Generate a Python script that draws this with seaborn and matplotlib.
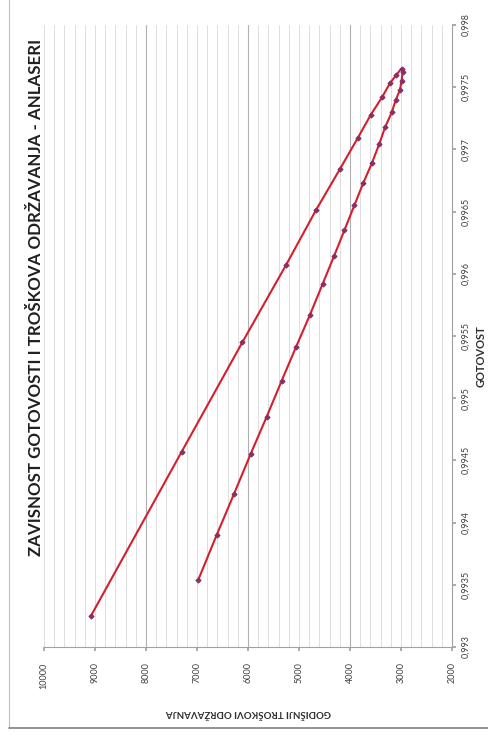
import numpy as np
import pandas as pd
import matplotlib
matplotlib.use("Agg")
import matplotlib.pyplot as plt
from matplotlib.ticker import MultipleLocator
from matplotlib.lines import Line2D
import seaborn as sns

# ---- data ----
outer_cost = [9080, 7300, 6110, 5255, 4670, 4200, 3850, 3590, 3370, 3220, 3090, 2990]
outer_got = [0.99325, 0.99457, 0.99545, 0.99607, 0.99651, 0.99684, 0.99709,
             0.99728, 0.99742, 0.99753, 0.99760, 0.99765]
inner_cost = [2970, 2990, 3020, 3100, 3180, 3310, 3430, 3570, 3740, 3915, 4110,
              4315, 4535, 4785, 5060, 5340, 5635, 5950, 6275, 6615, 6975]
inner_got = [0.99762, 0.99755, 0.99748, 0.99740, 0.99730, 0.99718, 0.99704,
             0.99689, 0.99673, 0.99655, 0.99635, 0.99614, 0.99592, 0.99567,
             0.99541, 0.99514, 0.99485, 0.99455, 0.99423, 0.99390, 0.99354]

cost_ticks = [10000, 9000, 8000, 7000, 6000, 5000, 4000, 3000, 2000]
cost_tick_labels = ["10000", "9000", "8000", "7000", "6000", "5000", "4000", "3000", "2000"]
got_ticks = [0.993, 0.9935, 0.994, 0.9945, 0.995, 0.9955, 0.996, 0.9965, 0.997, 0.9975, 0.998]
got_tick_labels = ["0,993", "0,9935", "0,994", "0,9945", "0,995", "0,9955",
                   "0,996", "0,9965", "0,997", "0,9975", "0,998"]
major_grid = [8000, 6000, 4000]

title = "ZAVISNOST GOTOVOSTI I TROŠKOVA ODRŽAVANJA - ANLASERI"
xlabel = "GODIŠNJI TROŠKOVI ODRŽAVANJA"
ylabel = "GOTOVOST"

sns.set_theme(style="white")
plt.rcParams['font.family'] = ['Lato', 'DejaVu Sans']

W, H = 489, 740
fig = plt.figure(figsize=(W / 100, H / 100), dpi=100)
fig.patch.set_facecolor("white")
ax = fig.add_axes([44 / W, (H - 647) / H, 408 / W, 622 / H])

df = pd.DataFrame({
    "cost": outer_cost + inner_cost,
    "got": outer_got + inner_got,
})

sns.lineplot(data=df, x="cost", y="got", sort=False, estimator=None, ax=ax,
             color="#d41f2c", lw=1.5, marker="D", markersize=2.6,
             markerfacecolor="#8a2f62", markeredgecolor="#8a2f62", zorder=3)

ax.set_xlim(10000, 2000)
ax.set_ylim(0.993, 0.998)

# grid (vertical only)
ax.xaxis.set_minor_locator(MultipleLocator(200))
ax.grid(which="minor", axis="x", color="#d8d8d8", lw=0.6)
ax.grid(which="major", axis="x", color="#d8d8d8", lw=0.6)
ax.grid(False, axis="y")
for g in major_grid:
    ax.axvline(g, color="#b0b0b0", lw=0.8, zorder=1)

# x axis (costs) at bottom, labels rotated
ax.set_xticks(cost_ticks)
ax.set_xticklabels(cost_tick_labels, rotation=90, fontsize=6.5, color="#404040")
ax.tick_params(axis="x", which="major", bottom=True, length=3, pad=8, color="#a0a0a0")
ax.tick_params(axis="x", which="minor", bottom=False)

# y axis (availability) on right
ax.yaxis.tick_right()
ax.yaxis.set_label_position("right")
ax.set_yticks(got_ticks)
ax.set_yticklabels(got_tick_labels, rotation=90, fontsize=6.5, color="#404040", va="center")
ax.tick_params(axis="y", which="major", right=True, left=False, length=3, pad=4, color="#a0a0a0")

for s in ["left", "top"]:
    ax.spines[s].set_visible(False)
for s in ["right", "bottom"]:
    ax.spines[s].set_color("#a0a0a0")
    ax.spines[s].set_linewidth(0.8)

ax.set_xlabel(xlabel, rotation=180, fontsize=7, fontweight="bold", color="#303030")
ax.xaxis.label.set_va("center")
ax.xaxis.set_label_coords(0.5, (647 - 712) / 622)

ax.set_ylabel(ylabel, rotation=90, fontsize=8, fontweight="bold", color="#303030")
ax.yaxis.label.set_va("center")
ax.yaxis.set_label_coords((481 - 44) / 408, (647 - 356) / 622)

fig.text(36 / W, 1 - 297 / H, title, rotation=90, ha="center", va="center",
         fontsize=12.2, fontweight="bold", color="#202020")

# outer frame
fig.add_artist(Line2D([9 / W, 9 / W], [1 - 728 / H, 1], transform=fig.transFigure,
                      color="#c0c0c0", lw=0.8))
fig.add_artist(Line2D([9 / W, 1], [1 - 728 / H, 1 - 728 / H], transform=fig.transFigure,
                      color="#808080", lw=1.2))

fig.savefig("out.png", dpi=100)
